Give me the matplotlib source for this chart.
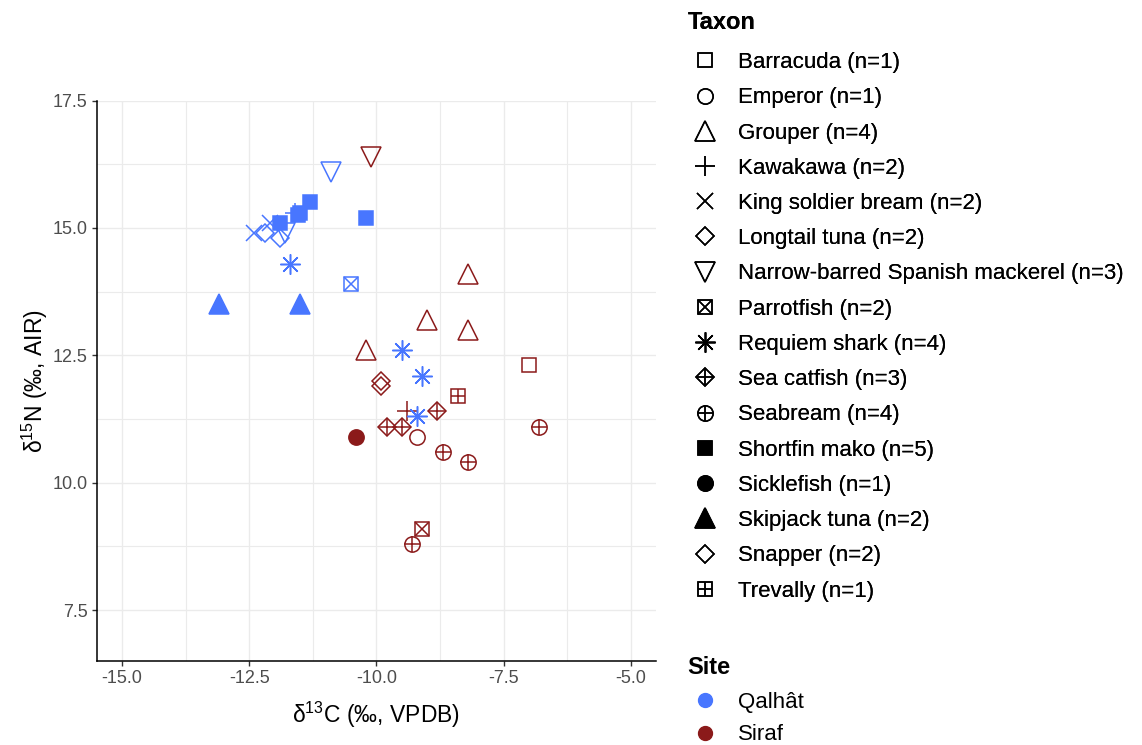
import matplotlib
matplotlib.use("Agg")
import matplotlib.pyplot as plt
from matplotlib.lines import Line2D
from matplotlib.ticker import MultipleLocator

plt.rcParams['font.family'] = ['Liberation Sans', 'DejaVu Sans']
plt.rcParams['mathtext.fontset'] = 'custom'
plt.rcParams['mathtext.rm'] = 'Liberation Sans'
plt.rcParams['mathtext.it'] = 'Liberation Sans'

# data: (taxon, site, d13C, d15N)
taxon = [
    "Shortfin mako", "Shortfin mako", "Shortfin mako", "Shortfin mako", "Shortfin mako",
    "Kawakawa", "King soldier bream", "King soldier bream",
    "Longtail tuna", "Longtail tuna",
    "Narrow-barred Spanish mackerel", "Narrow-barred Spanish mackerel",
    "Requiem shark", "Requiem shark", "Requiem shark", "Requiem shark",
    "Parrotfish", "Skipjack tuna", "Skipjack tuna",
    "Narrow-barred Spanish mackerel",
    "Grouper", "Grouper", "Grouper", "Grouper",
    "Snapper", "Snapper", "Barracuda", "Trevally", "Kawakawa",
    "Sea catfish", "Sea catfish", "Sea catfish",
    "Emperor", "Sicklefish",
    "Seabream", "Seabream", "Seabream", "Seabream",
    "Parrotfish",
]
site = ["Qalhât"] * 19 + ["Siraf"] * 20
d13C = [
    -11.3, -11.5, -11.9, -10.2, -11.55,
    -11.6, -12.4, -12.1,
    -12.2, -11.9,
    -10.9, -11.8,
    -11.7, -9.5, -9.1, -9.2,
    -10.5, -13.1, -11.5,
    -10.1,
    -8.2, -9.0, -8.2, -10.2,
    -9.9, -9.9, -7.0, -8.4, -9.4,
    -8.8, -9.8, -9.5,
    -9.2, -10.4,
    -6.8, -8.7, -8.2, -9.3,
    -9.1,
]
d15N = [
    15.5, 15.3, 15.1, 15.2, 15.25,
    15.3, 14.9, 15.1,
    14.9, 14.8,
    16.1, 14.9,
    14.3, 12.6, 12.1, 11.3,
    13.9, 13.5, 13.5,
    16.4,
    14.1, 13.2, 13.0, 12.6,
    12.0, 11.9, 12.3, 11.7, 11.4,
    11.4, 11.1, 11.1,
    10.9, 10.9,
    11.1, 10.6, 10.4, 8.8,
    9.1,
]

taxa_order = ["Barracuda", "Emperor", "Grouper", "Kawakawa", "King soldier bream",
              "Longtail tuna", "Narrow-barred Spanish mackerel", "Parrotfish",
              "Requiem shark", "Sea catfish", "Seabream", "Shortfin mako",
              "Sicklefish", "Skipjack tuna", "Snapper", "Trevally"]
sites = ["Qalhât", "Siraf"]
site_colors = {"Qalhât": "#4876FF", "Siraf": "#8B1A1A"}

# marker layers per taxon: (marker, size, filled)
shapes = {
    "Barracuda": [("s", 10.5, False)],
    "Emperor": [("o", 11, False)],
    "Grouper": [("^", 14, False)],
    "Kawakawa": [("+", 14, False)],
    "King soldier bream": [("x", 11, False)],
    "Longtail tuna": [("D", 9.5, False)],
    "Narrow-barred Spanish mackerel": [("v", 14, False)],
    "Parrotfish": [("s", 10.5, False), ("x", 10.5, False)],
    "Requiem shark": [((8, 2, 0), 14.5, False)],
    "Sea catfish": [("D", 9.5, False), ("+", 13.4, False)],
    "Seabream": [("o", 11, False), ("+", 11, False)],
    "Shortfin mako": [("s", 10.5, True)],
    "Sicklefish": [("o", 11, True)],
    "Skipjack tuna": [("^", 14, True)],
    "Snapper": [("D", 9.5, False)],
    "Trevally": [("s", 10.5, False), ("+", 10.5, False)],
}
mew = 1.1

fig = plt.figure(figsize=(11.42, 7.45), dpi=100)
ax = fig.add_axes([0.0847, 0.1128, 0.4898, 0.7522])

for t in taxa_order:
    for s in sites:
        xs = [x for x, tt, ss in zip(d13C, taxon, site) if tt == t and ss == s]
        ys = [y for y, tt, ss in zip(d15N, taxon, site) if tt == t and ss == s]
        if not xs:
            continue
        col = site_colors[s]
        for m, ms, filled in shapes[t]:
            ax.plot(xs, ys, linestyle="none", marker=m, markersize=ms,
                    markeredgewidth=mew, markeredgecolor=col,
                    markerfacecolor=col if filled else "none", zorder=3)

ax.set_xlim(-15.5, -4.5)
ax.set_ylim(6.5, 17.5)
ax.xaxis.set_major_locator(MultipleLocator(2.5))
ax.yaxis.set_major_locator(MultipleLocator(2.5))
ax.xaxis.set_minor_locator(MultipleLocator(1.25))
ax.yaxis.set_minor_locator(MultipleLocator(1.25))
ax.xaxis.set_major_formatter(matplotlib.ticker.FormatStrFormatter("%.1f"))
ax.yaxis.set_major_formatter(matplotlib.ticker.FormatStrFormatter("%.1f"))
ax.grid(which="major", color="#EBEBEB", linewidth=1.0)
ax.grid(which="minor", color="#EBEBEB", linewidth=0.8)
ax.set_axisbelow(True)
for sp in ["top", "right"]:
    ax.spines[sp].set_visible(False)
for sp in ["left", "bottom"]:
    ax.spines[sp].set_linewidth(1.1)
ax.tick_params(which="major", length=3.5, width=1.0, color="#333333",
               labelcolor="#4D4D4D", labelsize=13, pad=3)
ax.tick_params(which="minor", length=0)

ax.set_xlabel("δ$^{13}$C (‰, VPDB)", fontsize=16.5, labelpad=9)
ax.set_ylabel("δ$^{15}$N (‰, AIR)", fontsize=16.5, labelpad=2)

# legends
counts = {t: taxon.count(t) for t in taxa_order}
handles = []
for t in taxa_order:
    parts = []
    for m, ms, filled in shapes[t]:
        parts.append(Line2D([], [], linestyle="none", marker=m, markersize=ms,
                            markeredgewidth=mew, markeredgecolor="black",
                            markerfacecolor="black" if filled else "none"))
    handles.append(tuple(parts))
labels = [f"{t} (n={counts[t]})" for t in taxa_order]

leg1 = fig.legend(handles, labels, title="Taxon", loc="upper left",
                  bbox_to_anchor=(0.5924, 1.0), frameon=False, fontsize=16,
                  title_fontproperties={"size": 17, "weight": "bold"},
                  alignment="left", handlelength=1.6, handletextpad=0.65,
                  labelspacing=0.64, borderpad=0.0)
leg1._legend_box.sep = 13

site_handles = [Line2D([], [], linestyle="none", marker="o", markersize=10,
                       markeredgecolor=site_colors[s], markerfacecolor=site_colors[s])
                for s in sites]
leg2 = fig.legend(site_handles, sites, title="Site", loc="upper left",
                  bbox_to_anchor=(0.5924, 0.135), frameon=False, fontsize=16,
                  title_fontproperties={"size": 17, "weight": "bold"},
                  alignment="left", handlelength=1.6, handletextpad=0.65,
                  labelspacing=0.51, borderpad=0.0)
leg2._legend_box.sep = 9.8
fig.add_artist(leg1)

fig.savefig("out.png", dpi=100)
